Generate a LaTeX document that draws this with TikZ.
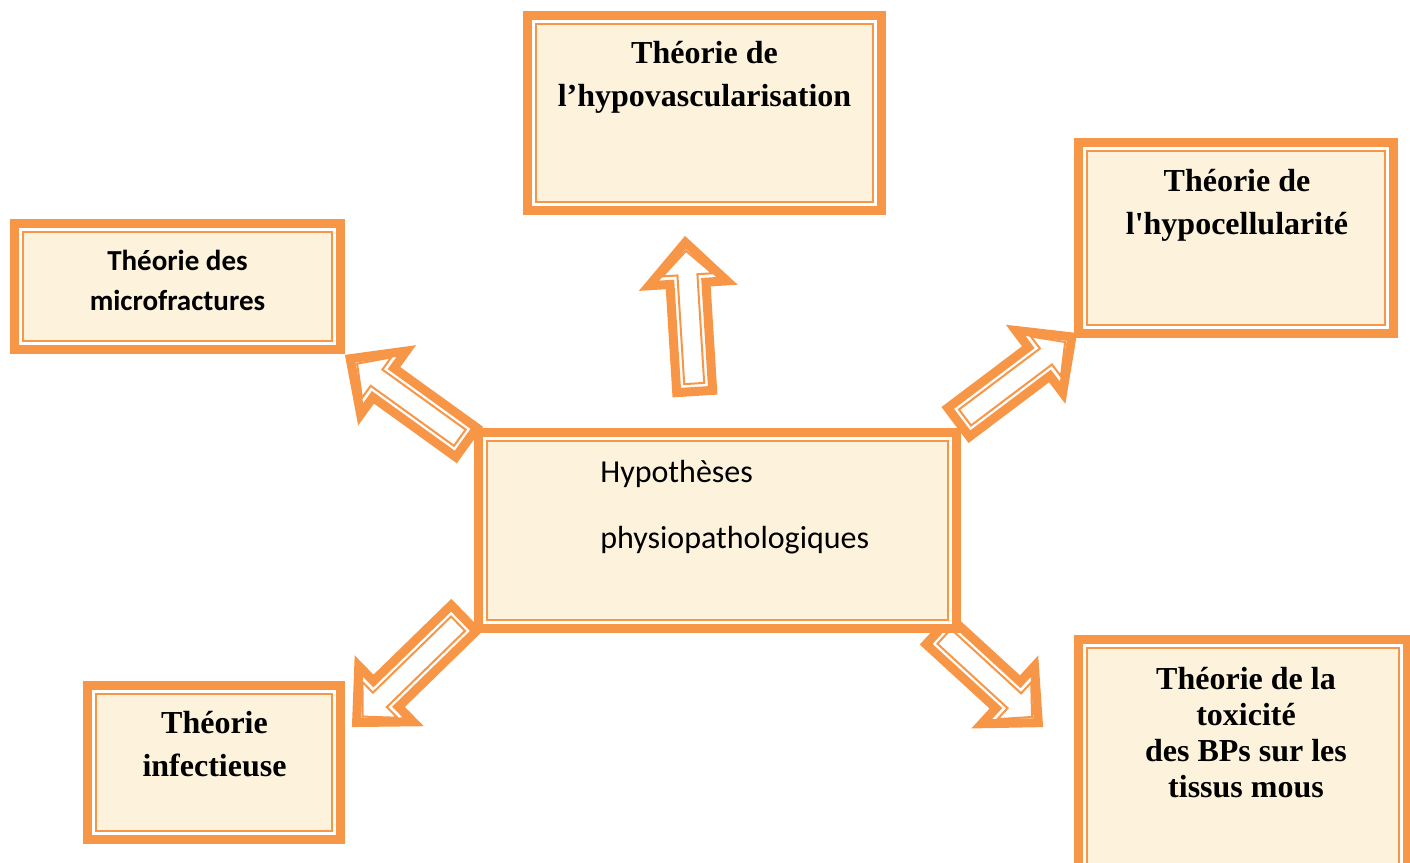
\documentclass[tikz,border=0pt]{standalone}
\usepackage{fontspec}
\setmainfont{Liberation Serif}
\newfontfamily\calfont{Carlito}
\usetikzlibrary{calc, fit}

\definecolor{boxorange}{RGB}{247,150,70}
\definecolor{cream}{RGB}{253,243,220}

% block arrow: style, tail, tip, half shaft, head length, half head
\newcommand{\arrowpoly}[6]{%
  \draw[#1] ($(#2)!#4!90:(#3)$) -- ($(#3)!#5!(#2)!#4!90:(#3)$)
    -- ($(#3)!#5!(#2)!#6!90:(#3)$) -- (#3)
    -- ($(#3)!#5!(#2)!#6!-90:(#3)$) -- ($(#3)!#5!(#2)!#4!-90:(#3)$)
    -- ($(#2)!#4!-90:(#3)$) -- cycle;}
\newcommand{\blockarrow}[2]{%
  \coordinate (#1i) at ($(#1)!4pt!(#2)$);
  \coordinate (#2i) at ($(#2)!4.25pt!(#1)$);
  \arrowpoly{arrowout}{#1}{#2}{9pt}{20.5pt}{19.5pt}
  \arrowpoly{arrowin}{#1i}{#2i}{5pt}{12pt}{12.5pt}}

\tikzset{
  tbox/.style={draw=boxorange, line width=4.5pt, fill=white, inner sep=0pt,
    path picture={\draw[boxorange, line width=1pt, fill=cream]
      ([shift={(4.25pt,4.25pt)}]path picture bounding box.south west) rectangle
      ([shift={(-4.25pt,-4.25pt)}]path picture bounding box.north east);}},
  arrowout/.style={draw=boxorange, line width=4.5pt, fill=white},
  arrowin/.style={draw=boxorange, line width=1pt},
  sertext/.style={font=\fontsize{16}{21.5}\selectfont\bfseries, align=center,
    anchor=base, inner sep=0pt},
  caltext/.style={font=\calfont\fontsize{16}{20}\selectfont, inner sep=0pt}
}

\begin{document}
\begin{tikzpicture}[x=0.5pt, y=0.5pt]
\useasboundingbox (0,0) rectangle (1410,-863);

% arrows, tail then tip
\coordinate (t1) at (694.7,-391.5);
\coordinate (p1) at (685.4,-242.4);
\coordinate (t2) at (466.3,-442.4);
\coordinate (p2) at (350.2,-358.7);
\coordinate (t3) at (958.6,-422.3);
\coordinate (p3) at (1071.9,-336.9);
\coordinate (t4) at (463.8,-618.1);
\coordinate (p4) at (356.6,-722.5);
\coordinate (t5) at (938.3,-631.0);
\coordinate (p5) at (1038.3,-722.7);
\blockarrow{t1}{p1}
\blockarrow{t2}{p2}
\blockarrow{t3}{p3}
\blockarrow{t4}{p4}
\blockarrow{t5}{p5}

% boxes
\node[tbox, fit={(527.5,-15.5) (881.5,-210.5)}] (hypo) {};
\node[tbox, fit={(14.5,-223.5) (340,-349.5)}] (micro) {};
\node[tbox, fit={(1078.5,-142.5) (1393.5,-333.5)}] (cell) {};
\node[tbox, fit={(478.5,-432.5) (956,-628.5)}] (hyp) {};
\node[tbox, fit={(87.5,-685.5) (340.5,-839.5)}] (infect) {};
\node[tbox, fit={(1078.5,-639.5) (1407.5,-875)}] (tox) {};

% texts (base = last line)
\node[sertext] (hypot) at (704.5,-106) {Théorie de\\l’hypovascularisation};
\node[sertext] (cellt) at (1237,-234) {Théorie de\\l\textquotesingle hypocellularité};
\node[sertext] (infectt) at (214.5,-776) {Théorie\\infectieuse};
\node[sertext, font=\fontsize{16}{18}\selectfont\bfseries] (toxt) at (1246,-797)
  {Théorie de la\\toxicité\\des BPs sur les\\tissus mous};
\node[caltext, font=\calfont\fontsize{14.5}{20}\selectfont\bfseries, align=center,
  anchor=base] (microt) at (177.5,-310) {Théorie des\\microfractures};
\node[caltext, font=\calfont\fontsize{16}{33}\selectfont, align=left,
  anchor=base west] (hypt) at (600,-548) {Hypothèses\\physiopathologiques};
\end{tikzpicture}
\end{document}
